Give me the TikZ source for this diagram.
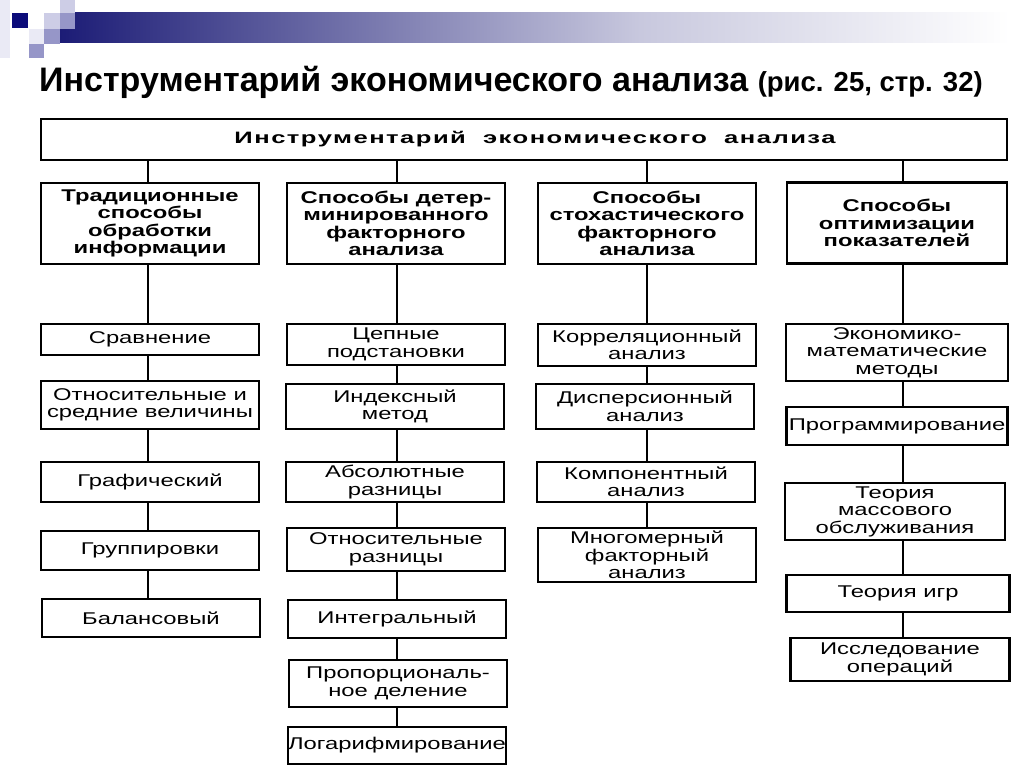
\documentclass[tikz,border=0pt]{standalone}
\usepackage{fontspec}
\setmainfont{Liberation Sans}
\newfontfamily\boxfont[FakeStretch=1.4]{Liberation Sans}
\newfontfamily\capfont[FakeStretch=1.55,LetterSpace=9]{Liberation Sans}
\definecolor{sqnavy}{RGB}{12,12,122}
\definecolor{barnavy}{RGB}{28,28,118}
\definecolor{barmid}{RGB}{200,200,222}
\definecolor{sqmid}{RGB}{150,150,200}
\definecolor{sqlight}{RGB}{205,205,230}
\definecolor{sqpale}{RGB}{234,234,245}
\tikzset{
  box/.style={draw,line width=2.4pt,fill=white,align=center,inner sep=0pt,font=\boxfont\fontsize{17}{17.5}\selectfont},
  head/.style={box,minimum width=218,minimum height=81,font=\boxfont\bfseries\fontsize{17}{17.5}\selectfont},
  item/.style={box,minimum width=218},
  link/.style={line width=2.4pt}
}
\begin{document}
\begin{tikzpicture}[x=1pt,y=-1pt]
        \useasboundingbox(0,0)rectangle(1024,767);
        % slide decoration
        \fill[sqpale](0,0)rectangle(10,58);
        \shade[left color=barnavy,right color=barmid](60,13)rectangle(640,43);
        \shade[left color=barmid,right color=white](640,13)rectangle(1010,43);
        \fill[sqnavy](12,13)rectangle(28,28);
        \fill[sqlight](44,13)rectangle(60,29);
        \fill[sqlight](60,0)rectangle(75,13);
        \fill[sqmid](60,13)rectangle(75,29);
        \fill[sqpale](29,29)rectangle(44,44);
        \fill[sqmid](44,29)rectangle(60,44);
        \fill[sqmid](29,44)rectangle(44,58);
        \node[anchor=base west,inner sep=0pt,font=\bfseries\fontsize{34}{38}\selectfont](title)at(39,92){Инструментарий экономического анализа {\fontsize{27.5}{30}\selectfont(рис. 25, стр. 32)}};
        % boxes
        \node[box,minimum width=966,minimum height=41,font=\capfont\bfseries\fontsize{16.5}{18}\selectfont](top)at(524,139.5){\hspace*{22pt}Инструментарий~ экономического~ анализа};
        \node[head](trad)at(150,223.5){Традиционные\\способы\\обработки\\информации};
        \node[head](determ)at(396,223.5){Способы детер-\\минированного\\факторного\\анализа};
        \node[head](stoch)at(647,223.5){Способы\\стохастического\\факторного\\анализа};
        \node[head,minimum width=220](optim)at(897,223){Способы\\оптимизации\\показателей};
        \node[item,minimum height=31](srav)at(150,339.5){Сравнение};
        \node[item,minimum height=48](otn)at(150,405){Относительные и\\средние величины};
        \node[item,minimum height=40](graf)at(150,482){Графический};
        \node[item,minimum height=39](grup)at(150,550.5){Группировки};
        \node[item,minimum height=38](balans)at(151,618){Балансовый};
        \node[item,minimum height=41](cepn)at(396,344.5){Цепные\\подстановки};
        \node[item,minimum height=45](index)at(395,406.5){Индексный\\метод};
        \node[item,minimum height=40](abs)at(395,482){Абсолютные\\разницы};
        \node[item,minimum height=43](otnraz)at(396,549.5){Относительные\\разницы};
        \node[item,minimum height=38](integr)at(397,619){Интегральный};
        \node[item,minimum height=47](prop)at(398,683.5){Пропорциональ-\\ное деление};
        \node[item,minimum height=37](logar)at(397,745.5){Логарифмирование};
        \node[item,minimum height=42](korr)at(647,345){Корреляционный\\анализ};
        \node[item,minimum height=45](disp)at(645,406.5){Дисперсионный\\анализ};
        \node[item,minimum height=40](komp)at(646,482){Компонентный\\анализ};
        \node[item,minimum height=54](mnog)at(647,555){Многомерный\\факторный\\анализ};
        \node[item,minimum width=222,minimum height=57](ekmat)at(897,352.5){Экономико-\\математические\\методы};
        \node[item,minimum width=221,minimum height=38](progr)at(897,426){Программирование};
        \node[item,minimum width=220,minimum height=57](tmo)at(895,511.5){Теория\\массового\\обслуживания};
        \node[item,minimum width=223,minimum height=37](tigr)at(898,593.5){Теория игр};
        \node[item,minimum width=219,minimum height=43](issl)at(900,659.5){Исследование\\операций};
        % links
        \foreach \b/\x in {trad/148,determ/397,stoch/647,optim/903}
          \draw[link](top.south-|\x,0)--(\b.north-|\x,0);
        \foreach \a/\b/\x in {trad/srav/148,srav/otn/148,otn/graf/148,graf/grup/148,grup/balans/148,
                             determ/cepn/397,cepn/index/397,index/abs/397,abs/otnraz/397,otnraz/integr/397,integr/prop/397,prop/logar/397,
                             stoch/korr/647,korr/disp/647,disp/komp/647,komp/mnog/647,
                             optim/ekmat/903,ekmat/progr/903,progr/tmo/903,tmo/tigr/903,tigr/issl/903}
          \draw[link](\a.south-|\x,0)--(\b.north-|\x,0);
\end{tikzpicture}
\end{document}
